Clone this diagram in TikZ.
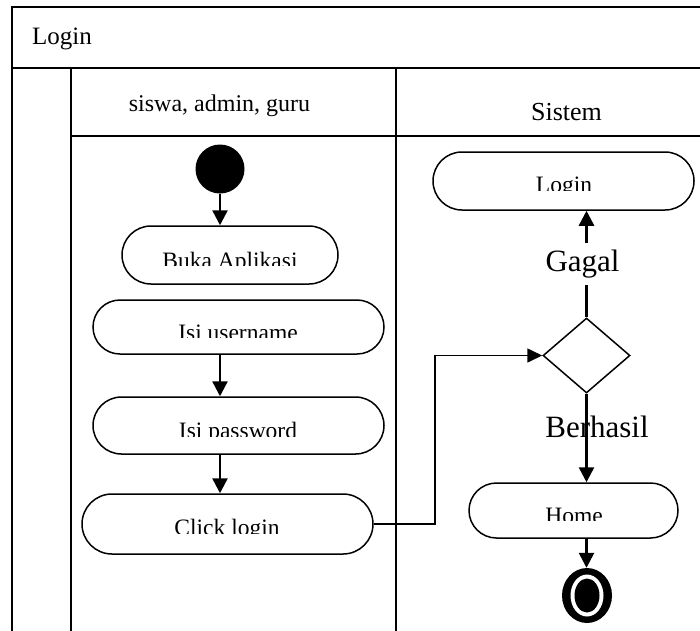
\documentclass[tikz,border=0pt]{standalone}
\usepackage{fontspec}
\setmainfont{Liberation Serif}
\usetikzlibrary{arrows.meta,shapes.geometric}

\tikzset{
  frame/.style={line width=2pt},
  lane/.style={line width=1.3pt},
  act/.style={draw, line width=1.5pt, rectangle, rounded corners=#1, inner sep=0pt, fill=white},
  acttext/.style={inner sep=0pt, font=\fontsize{23.5}{28}\selectfont},
  flow/.style={line width=2.5pt, -{Triangle[width=15pt,length=15pt]}},
  link/.style={line width=1.6pt, -{Triangle[width=14pt,length=15pt]}},
  decision/.style={diamond, draw, line width=1.5pt, inner sep=0pt},
  guard/.style={inner sep=0pt, font=\fontsize{31}{36}\selectfont},
}

% activity caption, cut off along its lower edge: name, x, baseline, cut line, text
\newcommand\cutcaption[5]{%
  \begin{scope}
    \clip (#2-160,#4-40) rectangle (#2+160,#4);
    \node[acttext, anchor=base] (#1) at (#2,#3) {#5};
  \end{scope}}

\begin{document}
\begin{tikzpicture}[x=1pt, y=-1pt]
  \useasboundingbox (0,0) rectangle (700,630);

  % swimlane frame
  \draw[frame] (12,631) -- (12,7) -- (701,7);
  \draw[frame] (12,68) -- (701,68);
  \draw[lane] (71,68) -- (71,631);
  \draw[lane] (396,68) -- (396,631);
  \draw[lane] (71,136) -- (701,136);

  \node[inner sep=0pt, anchor=base west, font=\fontsize{25}{30}\selectfont] (title) at (32,44) {Login};
  \node[inner sep=0pt, anchor=base, font=\fontsize{24}{28}\selectfont] (laneA) at (219.5,111) {siswa, admin, guru};
  \node[inner sep=0pt, anchor=base, font=\fontsize{26}{30}\selectfont] (laneB) at (566.5,120) {Sistem};

  % user lane
  \node[circle, fill, minimum size=49pt, inner sep=0pt] (start) at (220,169) {};
  \node[act=29pt, minimum width=216pt, minimum height=58pt] (buka) at (230,255) {};
  \node[act=27pt, minimum width=291pt, minimum height=54pt] (user) at (238.5,327) {};
  \node[act=28.5pt, minimum width=291pt, minimum height=57pt] (pass) at (238.5,425.5) {};
  \node[act=30pt, minimum width=291pt, minimum height=60pt] (click) at (227.5,524) {};

  \cutcaption{tbuka}{230}{268}{265.5}{Buka Aplikasi}
  \cutcaption{tuser}{238}{340.5}{337.5}{Isi username}
  \cutcaption{tpass}{238}{438.5}{436}{Isi password}
  \cutcaption{tclick}{227}{535.5}{533}{Click login}

  \draw[flow] (start.south -| 220,0) -- (buka.north -| 220,0);
  \draw[flow] (user.south -| 220,0) -- (pass.north -| 220,0);
  \draw[flow] (pass.south -| 220,0) -- (click.north -| 220,0);

  % system lane
  \node[act=29pt, minimum width=261pt, minimum height=58pt] (login) at (563.5,181) {};
  \node[decision, minimum width=87pt, minimum height=75pt] (dia) at (586.5,355.5) {};
  \node[act=27.5pt, minimum width=209pt, minimum height=55pt] (home) at (573.5,510.5) {};

  \cutcaption{tlogin}{564}{192.5}{190}{Login}
  \cutcaption{thome}{574}{523.5}{520.5}{Home}

  \node[ellipse, fill, minimum width=50pt, minimum height=55pt, inner sep=0pt] (stop) at (587,595.5) {};
  \fill[white] (stop.center) ellipse [x radius=16.5pt, y radius=21pt];
  \fill[black] (stop.center) ellipse [x radius=12.5pt, y radius=17pt];

  \draw[link] (click.east) -- ++(61,0) |- (dia.west);

  \draw[flow] (dia.north) -- node[guard, fill=white, inner sep=7pt, xshift=-4pt] (gagal) {Gagal} (dia.north |- login.south);
  \draw[flow] (dia.south) -- (dia.south |- home.north);
  \node[guard, anchor=base] (berhasil) at (597,437) {Berhasil};
  \draw[flow] (dia.south |- home.south) -- (dia.south |- stop.north);
\end{tikzpicture}
\end{document}
